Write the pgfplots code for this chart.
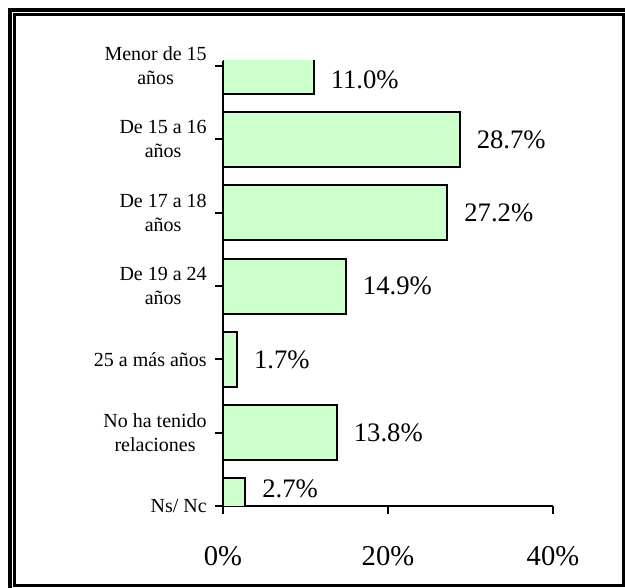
\documentclass[border=0pt]{standalone}
\usepackage{fontspec}
\setmainfont{Liberation Serif}
\usepackage{pgfplots}
\pgfplotsset{compat=1.18}
\definecolor{barfill}{HTML}{CCFFCC}
\begin{document}
\begin{tikzpicture}
\path[use as bounding box] (0,0) rectangle (468.75pt,441pt);
\begin{scope}
\clip (0,0) rectangle (468.75pt,441pt);
\draw[line width=3pt] (7.5pt,-20pt) rectangle (490pt,433.5pt);
\draw[line width=2.25pt] (10.875pt,1.5pt) rectangle (467.6pt,430.125pt);
\end{scope}
\begin{axis}[
 at={(167.25pt,61.5pt)}, anchor=south west,
 scale only axis, width=247.5pt, height=333.75pt,
 xmin=0, xmax=40, ymin=0, ymax=6.07,
 axis x line*=bottom, axis y line*=left,
 axis line style={line width=1.5pt,-},
 xtick={0,20,40}, xticklabels={0\%,20\%,40\%},
 ytick={0,1,2,3,4,5,6},
 yticklabels={Ns/ Nc, No ha tenido\\relaciones, 25 a más años, De 19 a 24\\años, De 17 a 18\\años, De 15 a 16\\años, Menor de 15\\años},
 tick align=outside,
 major tick length=6pt,
 tick style={line width=1.5pt, black},
 /pgf/number format/assume math mode=true,
 xticklabel style={font=\fontsize{21.5}{24}\selectfont, anchor=center, yshift=-31.5pt},
 yticklabel style={font=\fontsize{15}{18}\selectfont, align=center, anchor=east, inner sep=0pt, xshift=-6pt},
]
\addplot[xbar, fill=barfill, draw=black, line width=1.5pt, bar width=41.25pt,
 visualization depends on={\thisrow{dy}\as\dy},
 nodes near coords={\pgfmathprintnumber[fixed,fixed zerofill,precision=1]{\pgfplotspointmeta}\%},
 every node near coord/.style={anchor=west, inner sep=0pt, xshift=12pt, yshift=\dy pt, font=\fontsize{20}{24}\selectfont, black},
] table[x=v, y=c] {
c v dy
0 2.7 13
1 13.8 0
2 1.7 0
3 14.9 0
4 27.2 0
5 28.7 0
6 11.0 -10
};
\end{axis}
\end{tikzpicture}
\end{document}
